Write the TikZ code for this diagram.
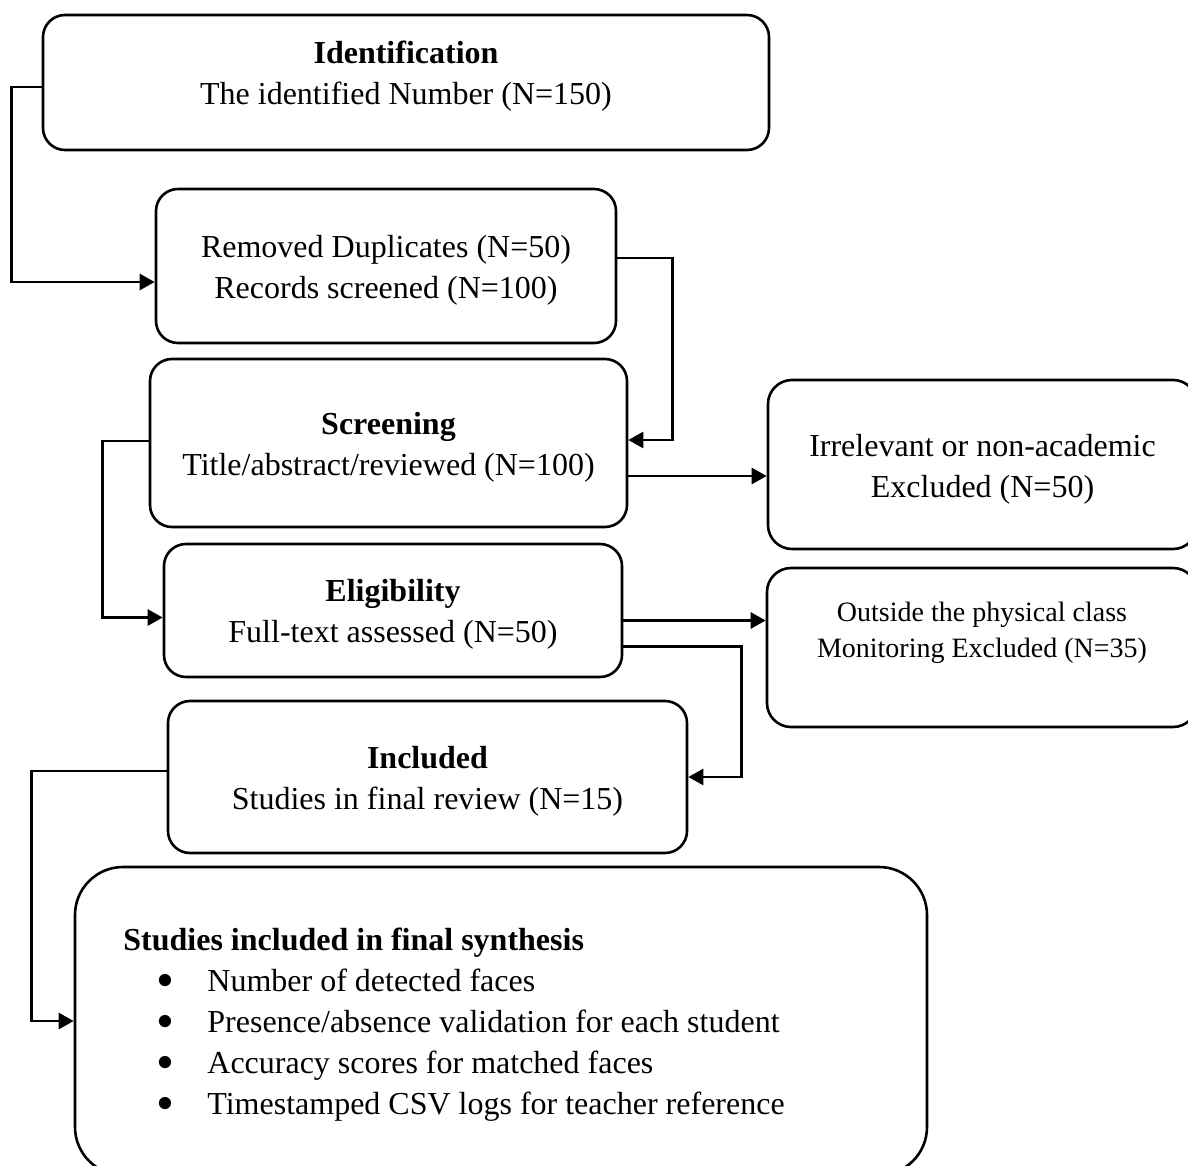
\documentclass[tikz,border=0pt]{standalone}
\usepackage{fontspec}
\setmainfont{Liberation Serif}
\usetikzlibrary{arrows.meta}

\newcommand{\bul}{\hspace*{16.5pt}\makebox[25.5pt][l]{\smash{\raisebox{-3pt}{\scalebox{1.6}{\textbullet}}}}}

\tikzset{
  box/.style={draw, line width=1.3pt, rounded corners=11pt},
  txt/.style={align=center, inner sep=0pt, font=\fontsize{16}{20.5}\selectfont},
  arr/.style={-{Triangle[length=7.5pt,width=8pt]}, line width=1.3pt}
}

\begin{document}
\begin{tikzpicture}[x=0.5pt,y=-0.5pt]
\clip (0,0) rectangle (1188,1166);

% boxes
\node[box, minimum width=363pt, minimum height=67.5pt] (ident) at (406,82.5) {};
\node[box, minimum width=230pt, minimum height=77pt] (dup) at (386,266) {};
\node[box, minimum width=238.5pt, minimum height=84pt] (scr) at (388.5,443) {};
\node[box, rounded corners=12pt, minimum width=214.5pt, minimum height=84.5pt] (irr) at (982.5,464.5) {};
\node[box, minimum width=229pt, minimum height=66.5pt] (elig) at (393,610.5) {};
\node[box, rounded corners=12pt, minimum width=215pt, minimum height=79.5pt] (out) at (982,647.5) {};
\node[box, minimum width=259.5pt, minimum height=76pt] (incl) at (427.5,777) {};
\node[box, rounded corners=24pt, minimum width=426pt, minimum height=154pt] (synth) at (501,1021) {};

% texts
\node[txt] (identtxt) at ([yshift=3pt]ident.center)
  {\textbf{Identification}\\The identified Number (N=150)};
\node[txt] (duptxt) at ([yshift=-2pt]dup.center)
  {Removed Duplicates (N=50)\\Records screened (N=100)};
\node[txt] (scrtxt) at ([yshift=-2pt]scr.center)
  {\textbf{Screening}\\Title/abstract/reviewed (N=100)};
\node[txt] (irrtxt) at ([yshift=-2.25pt]irr.center)
  {Irrelevant or non-academic\\Excluded (N=50)};
\node[txt] (eligtxt) at ([yshift=-2pt]elig.center)
  {\textbf{Eligibility}\\Full-text assessed (N=50)};
\node[txt, font=\fontsize{14}{18}\selectfont] (outtxt) at ([yshift=7.5pt]out.center)
  {Outside the physical class\\Monitoring Excluded (N=35)};
\node[txt] (incltxt) at ([yshift=-2pt]incl.center)
  {\textbf{Included}\\Studies in final review (N=15)};
\node[txt, align=left, anchor=west] (synthtxt) at (123,1025)
  {\textbf{Studies included in final synthesis}\\
   \bul Number of detected faces\\
   \bul Presence/absence validation for each student\\
   \bul Accuracy scores for matched faces\\
   \bul Timestamped CSV logs for teacher reference};

% connectors
\draw[arr] ([yshift=-2.25pt]ident.west) -- ++(-30,0) |- ([yshift=-8pt]dup.west);
\draw[arr] ([yshift=4pt]dup.east) -- ++(55,0) |- ([yshift=1.5pt]scr.east);
\draw[arr] ([yshift=-16.5pt]scr.east) -- ([yshift=-5.75pt]irr.west);
\draw[arr] ([yshift=1pt]scr.west) -- ++(-46,0) |- ([yshift=-3.5pt]elig.west);
\draw[arr] ([yshift=-5pt]elig.east) -- ([yshift=13.5pt]out.west);
\draw[arr] ([yshift=-18pt]elig.east) -- ++(118,0) |- (incl.east);
\draw[arr] ([yshift=3pt]incl.west) -- ++(-135,0) |- (synth.west);
\end{tikzpicture}
\end{document}
